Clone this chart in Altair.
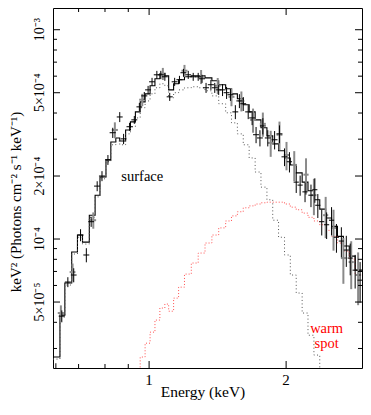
import altair as alt
import pandas as pd

# ---- model (step histograms) ----
bin_edges = [0.615, 0.637, 0.653, 0.676, 0.696, 0.714, 0.739, 0.761, 0.780, 0.804,
             0.824, 0.845, 0.862, 0.888, 0.910, 0.933, 0.956, 0.980, 1.005, 1.030,
             1.056, 1.083, 1.104, 1.132, 1.161, 1.196, 1.238, 1.282, 1.327, 1.374,
             1.422, 1.473, 1.517, 1.563, 1.610, 1.659, 1.710, 1.761, 1.815, 1.869,
             1.925, 1.984, 2.043, 2.105, 2.169, 2.234, 2.302, 2.371, 2.443, 2.517,
             2.593, 2.672, 2.753, 2.836, 2.936]
model_total = [2.73e-5, 4.33e-5, 6.16e-5, 8.67e-5, 1.045e-4, 9.67e-5, 1.30e-4, 1.62e-4, 1.98e-4, 2.39e-4,
               2.91e-4, 3.04e-4, 2.94e-4, 3.32e-4, 3.63e-4, 4.05e-4, 4.52e-4, 4.94e-4, 5.40e-4, 5.83e-4,
               6.16e-4, 6.03e-4, 5.16e-4, 5.52e-4, 5.77e-4, 5.96e-4, 6.03e-4, 6.03e-4, 5.89e-4, 5.70e-4,
               5.46e-4, 5.22e-4, 4.94e-4, 4.68e-4, 4.38e-4, 4.05e-4, 3.71e-4, 3.40e-4, 3.11e-4, 2.85e-4,
               2.64e-4, 2.44e-4, 2.26e-4, 2.07e-4, 1.87e-4, 1.70e-4, 1.54e-4, 1.39e-4, 1.26e-4, 1.15e-4,
               1.03e-4, 9.26e-5, 8.29e-5, 7.10e-5]
model_surface = [2.67e-5, 4.23e-5, 6.03e-5, 8.48e-5, 1.02e-4, 9.46e-5, 1.27e-4, 1.59e-4, 1.94e-4, 2.34e-4,
                 2.82e-4, 2.94e-4, 2.82e-4, 3.18e-4, 3.44e-4, 3.79e-4, 4.24e-4, 4.57e-4, 4.94e-4, 5.28e-4,
                 5.52e-4, 5.40e-4, 4.73e-4, 5.00e-4, 5.16e-4, 5.28e-4, 5.34e-4, 5.28e-4, 5.11e-4, 4.83e-4,
                 4.43e-4, 4.01e-4, 3.59e-4, 3.18e-4, 2.82e-4, 2.44e-4, 2.09e-4, 1.77e-4, 1.54e-4, 1.23e-4,
                 1.02e-4, 8.39e-5, 6.73e-5, 5.52e-5, 4.43e-5, 3.47e-5, 2.79e-5, 2.16e-5, 1.70e-5]
warm_first_bin = 12
model_warm = [1.80e-5, 2.00e-5, 2.21e-5, 2.36e-5, 2.73e-5, 3.18e-5, 3.59e-5, 4.10e-5, 4.68e-5, 4.89e-5,
              4.52e-5, 5.22e-5, 5.89e-5, 6.80e-5, 7.68e-5, 8.57e-5, 9.57e-5, 1.045e-4, 1.13e-4, 1.22e-4,
              1.29e-4, 1.35e-4, 1.41e-4, 1.44e-4, 1.47e-4, 1.49e-4, 1.50e-4, 1.50e-4, 1.50e-4, 1.47e-4,
              1.42e-4, 1.38e-4, 1.33e-4, 1.27e-4, 1.22e-4, 1.17e-4, 1.10e-4, 1.03e-4, 9.57e-5, 8.76e-5,
              8.02e-5, 6.73e-5]

# ---- data, first instrument (black) ----
black_E = [0.624, 0.643, 0.663, 0.683, 0.707, 0.728, 0.746, 0.769, 0.788, 0.812,
           0.832, 0.862, 0.879, 0.906, 0.928, 0.952, 0.976, 0.995, 1.015, 1.040,
           1.061, 1.083, 1.110, 1.138, 1.166, 1.190, 1.219, 1.250, 1.282, 1.307,
           1.334, 1.367, 1.394, 1.422, 1.450, 1.480, 1.509, 1.547, 1.579, 1.610,
           1.651, 1.684, 1.718, 1.752, 1.778, 1.823, 1.887, 1.934, 1.984, 2.034,
           2.105, 2.147, 2.201, 2.268, 2.313, 2.348, 2.395, 2.455, 2.517, 2.580,
           2.645, 2.712, 2.766, 2.836, 2.908]
black_dE = [0.009, 0.010, 0.010, 0.010, 0.011, 0.011, 0.011, 0.012, 0.012, 0.012,
            0.013, 0.013, 0.013, 0.014, 0.014, 0.014, 0.015, 0.015, 0.015, 0.016,
            0.016, 0.016, 0.017, 0.017, 0.018, 0.018, 0.018, 0.019, 0.019, 0.020,
            0.020, 0.021, 0.021, 0.021, 0.022, 0.022, 0.023, 0.023, 0.024, 0.024,
            0.025, 0.025, 0.026, 0.026, 0.027, 0.027, 0.028, 0.029, 0.030, 0.027,
            0.028, 0.028, 0.029, 0.030, 0.030, 0.031, 0.031, 0.032, 0.033, 0.034,
            0.034, 0.035, 0.036, 0.037, 0.038]
black_F = [2.39e-5, 4.28e-5, 6.23e-5, 6.73e-5, 1.045e-4, 8.39e-5, 1.21e-4, 1.79e-4, 2.00e-4, 2.39e-4,
           3.22e-4, 3.83e-4, 3.01e-4, 3.44e-4, 3.71e-4, 4.28e-4, 4.83e-4, 5.16e-4, 5.64e-4, 6.09e-4,
           6.09e-4, 5.96e-4, 4.78e-4, 5.64e-4, 5.77e-4, 6.23e-4, 6.09e-4, 5.96e-4, 5.96e-4, 5.83e-4,
           5.28e-4, 5.46e-4, 5.28e-4, 5.16e-4, 5.16e-4, 5.00e-4, 4.89e-4, 4.05e-4, 4.57e-4, 4.43e-4,
           4.05e-4, 3.79e-4, 3.15e-4, 3.04e-4, 3.47e-4, 3.04e-4, 2.98e-4, 3.18e-4, 2.47e-4, 2.34e-4,
           1.87e-4, 1.81e-4, 1.68e-4, 1.62e-4, 1.72e-4, 1.45e-4, 1.21e-4, 1.17e-4, 1.23e-4, 1.02e-4,
           9.78e-5, 8.86e-5, 8.11e-5, 7.10e-5, 6.36e-5]
black_dF = [1.6e-6, 2.8e-6, 3.4e-6, 5.2e-6, 6.9e-6, 6.5e-6, 6.7e-6, 9.8e-6, 1.1e-5, 1.3e-5,
            1.8e-5, 2.1e-5, 1.7e-5, 1.5e-5, 1.6e-5, 1.9e-5, 2.1e-5, 2.3e-5, 2.5e-5, 2.7e-5,
            2.7e-5, 2.6e-5, 2.1e-5, 2.5e-5, 2.5e-5, 2.7e-5, 2.7e-5, 2.6e-5, 2.6e-5, 2.6e-5,
            2.9e-5, 3.0e-5, 2.9e-5, 2.8e-5, 3.4e-5, 3.3e-5, 3.2e-5, 3.1e-5, 3.5e-5, 3.4e-5,
            3.1e-5, 2.9e-5, 2.8e-5, 2.7e-5, 3.1e-5, 2.7e-5, 3.0e-5, 3.1e-5, 2.4e-5, 2.6e-5,
            2.1e-5, 2.0e-5, 1.8e-5, 2.0e-5, 2.3e-5, 1.9e-5, 1.7e-5, 1.7e-5, 1.9e-5, 1.6e-5,
            1.6e-5, 1.5e-5, 1.4e-5, 1.3e-5, 1.4e-5]

# ---- data, second instrument (grey) ----
gray_E = [0.640, 0.679, 0.754, 0.841, 0.966, 1.072, 1.196, 1.301, 1.415, 1.517,
          1.595, 1.692, 1.778, 1.850, 1.934, 2.004, 2.084, 2.212, 2.302, 2.443,
          2.542, 2.672, 2.780, 2.879]
gray_dE = [0.010, 0.010, 0.011, 0.013, 0.015, 0.016, 0.018, 0.020, 0.021, 0.023,
           0.024, 0.025, 0.027, 0.028, 0.029, 0.027, 0.028, 0.029, 0.030, 0.032,
           0.033, 0.034, 0.036, 0.037]
gray_F = [4.43e-5, 6.95e-5, 1.23e-4, 3.32e-4, 4.63e-4, 6.16e-4, 6.37e-4, 5.96e-4, 5.40e-4, 4.78e-4,
          4.57e-4, 3.71e-4, 3.55e-4, 2.88e-4, 3.15e-4, 2.52e-4, 2.26e-4, 2.03e-4, 1.62e-4, 1.30e-4,
          1.13e-4, 8.11e-5, 7.76e-5, 6.73e-5]
gray_dF = [3.9e-6, 6.9e-6, 1.1e-5, 2.9e-5, 3.1e-5, 4.1e-5, 4.2e-5, 4.6e-5, 4.8e-5, 4.7e-5,
           5.0e-5, 4.9e-5, 4.7e-5, 4.1e-5, 4.9e-5, 3.9e-5, 3.7e-5, 4.0e-5, 3.2e-5, 2.9e-5,
           2.5e-5, 2.0e-5, 2.0e-5, 1.9e-5]

# ---- axes ----
x_domain = [0.615, 2.936]
y_domain = [2.42e-5, 1.27e-3]
x_major = [1, 2]
x_major_labels = ["1", "2"]
x_minor = [0.7, 0.8, 0.9]
y_major = [5e-5, 1e-4, 2e-4, 5e-4, 1e-3]
y_major_labels = ["5×10⁻⁵", "10⁻⁴", "2×10⁻⁴", "5×10⁻⁴", "10⁻³"]
y_minor = [3e-5, 4e-5, 6e-5, 7e-5, 8e-5, 9e-5, 3e-4, 4e-4, 6e-4, 7e-4, 8e-4, 9e-4]
x_title = "Energy (keV)"
y_title = "keV² (Photons cm⁻² s⁻¹ keV⁻¹)"

labels = [
    {"text": "surface", "E": 0.966, "F": 1.98e-4, "color": "black"},
    {"text": ["warm", "spot"], "E": 2.455, "F": 3.71e-5, "color": "#ff0000"},
]

W, H = 309, 360
FONT = "Liberation Serif"

xs = alt.Scale(type="log", domain=x_domain, nice=False, zero=False)
ys = alt.Scale(type="log", domain=y_domain, nice=False, zero=False)


def X(f):
    return alt.X(f, type="quantitative", scale=xs, axis=None)


def Y(f):
    return alt.Y(f, type="quantitative", scale=ys, axis=None)


def step_df(edges, vals):
    return pd.DataFrame({"E": edges[:len(vals) + 1], "F": list(vals) + [vals[-1]]})


def data_df(E, dE, F, dF):
    return pd.DataFrame({
        "E": E, "F": F,
        "E_lo": [e - d for e, d in zip(E, dE)], "E_hi": [e + d for e, d in zip(E, dE)],
        "F_lo": [f - d for f, d in zip(F, dF)], "F_hi": [f + d for f, d in zip(F, dF)],
    })


total_line = alt.Chart(step_df(bin_edges, model_total)).mark_line(
    interpolate="step-after", color="black", strokeWidth=1.1, clip=True
).encode(x=X("E"), y=Y("F"))

surface_line = alt.Chart(step_df(bin_edges, model_surface)).mark_line(
    interpolate="step-after", color="#555555", strokeWidth=1, strokeDash=[1, 2.5], clip=True
).encode(x=X("E"), y=Y("F"))

warm_line = alt.Chart(step_df(bin_edges[warm_first_bin:], model_warm)).mark_line(
    interpolate="step-after", color="#ff5050", strokeWidth=1, strokeDash=[1, 2], clip=True
).encode(x=X("E"), y=Y("F"))


def cross_layers(df, color, width):
    base = alt.Chart(df)
    h = base.mark_rule(color=color, strokeWidth=width, clip=True).encode(
        x=X("E_lo"), x2="E_hi", y=Y("F"))
    v = base.mark_rule(color=color, strokeWidth=width, clip=True).encode(
        x=X("E"), y=Y("F_lo"), y2="F_hi")
    return [h, v]


gray_layers = cross_layers(data_df(gray_E, gray_dE, gray_F, gray_dF), "#8a8a8a", 2)
black_layers = cross_layers(data_df(black_E, black_dE, black_F, black_dF), "black", 1)


def yticks(vals, x0, x1):
    return alt.Chart(pd.DataFrame({"v": vals})).mark_rule(color="black", strokeWidth=1).encode(
        y=Y("v"), x=alt.value(x0), x2=alt.value(x1))


def xticks(vals, y0, y1):
    return alt.Chart(pd.DataFrame({"v": vals})).mark_rule(color="black", strokeWidth=1).encode(
        x=X("v"), y=alt.value(y0), y2=alt.value(y1))


tick_layers = [
    yticks(y_major, 0, 7), yticks(y_minor, 0, 4),
    yticks(y_major, W - 7, W), yticks(y_minor, W - 4, W),
    xticks(x_major, H - 7, H), xticks(x_minor, H - 4, H),
    xticks(x_major, 0, 7), xticks(x_minor, 0, 4),
]

# axis labels and titles as text marks
ylab = alt.Chart(pd.DataFrame({"v": y_major, "t": y_major_labels})).mark_text(
    font=FONT, fontSize=14, angle=270, align="center", baseline="bottom", color="black"
).encode(y=Y("v"), x=alt.value(-6), text="t:N")
xlab = alt.Chart(pd.DataFrame({"v": x_major, "t": x_major_labels})).mark_text(
    font=FONT, fontSize=15, align="center", baseline="middle", color="black"
).encode(x=X("v"), y=alt.value(H + 12), text="t:N")
xtitle = alt.Chart(pd.DataFrame({"t": [x_title]})).mark_text(
    font=FONT, fontSize=15.5, align="center", baseline="middle", color="black"
).encode(x=alt.value(150), y=alt.value(H + 24), text="t:N")
ytitle = alt.Chart(pd.DataFrame({"t": [y_title]})).mark_text(
    font=FONT, fontSize=15, angle=270, align="center", baseline="middle", color="black"
).encode(x=alt.value(-37), y=alt.value(194), text="t:N")

text_layer = alt.Chart(pd.DataFrame(labels)).mark_text(
    font=FONT, fontSize=14.5, lineHeight=15, align="center", baseline="middle"
).encode(x=X("E"), y=Y("F"), text="text", color=alt.Color("color:N", scale=None))

chart = alt.layer(
    total_line, surface_line, warm_line, *gray_layers, *black_layers, *tick_layers,
    ylab, xlab, xtitle, ytitle, text_layer
).properties(
    width=W, height=H,
    autosize=alt.AutoSizeParams(type="none"),
    padding={"left": 45, "top": 0, "right": 1, "bottom": 32},
    background="white",
).configure_view(stroke="black", strokeWidth=1)

chart.save("out.html", embed_options={"renderer": "svg", "actions": False})
